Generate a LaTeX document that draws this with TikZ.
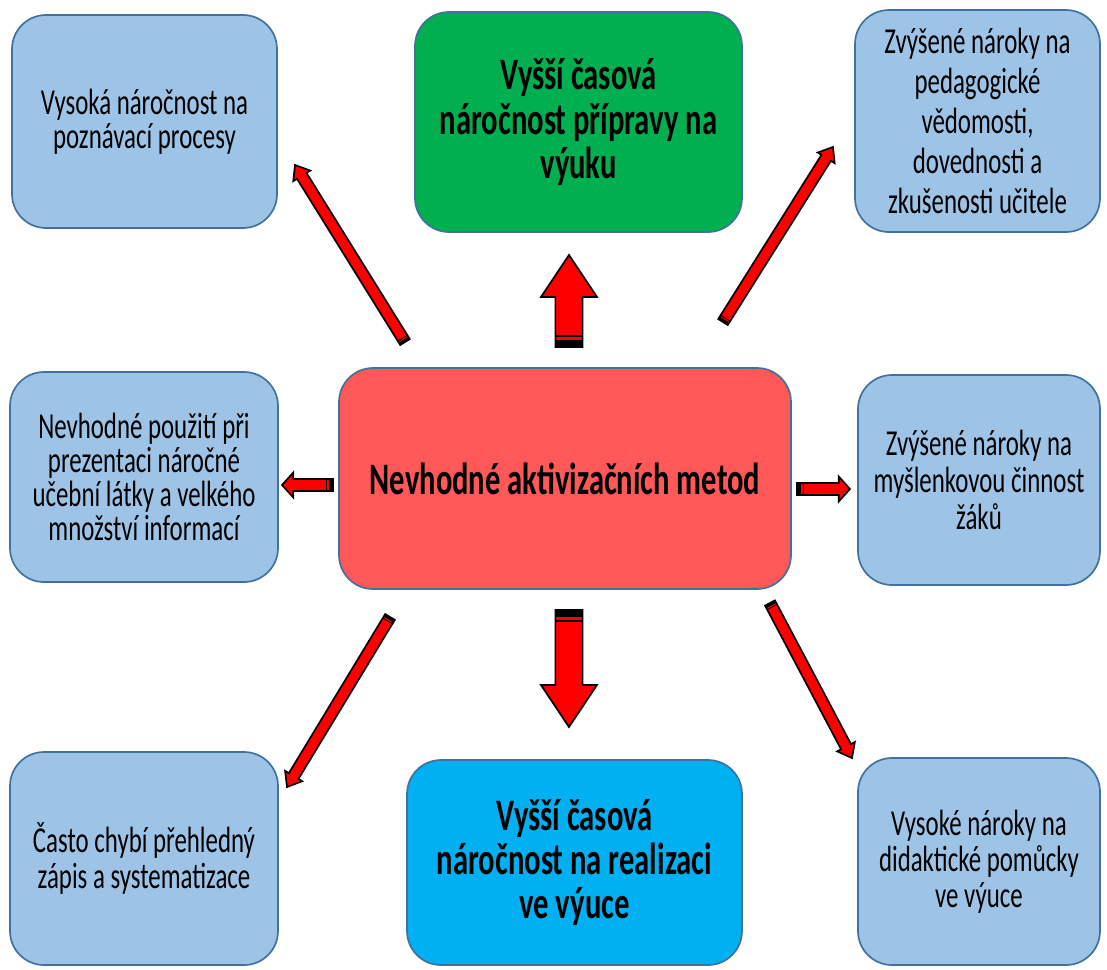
\documentclass[tikz,border=0pt]{standalone}
\usepackage{fontspec}
\setmainfont{Carlito}[FakeStretch=0.68]
\usetikzlibrary{calc}
\definecolor{boxblue}{RGB}{157,195,230}
\definecolor{boxline}{RGB}{65,113,156}
\definecolor{boxgreen}{RGB}{0,176,80}
\definecolor{boxcyan}{RGB}{0,176,240}
\definecolor{boxred}{RGB}{255,88,88}
% fat arrow: #1 tail, #2 tip, #3 half shaft, #4 half head, #5 head length, #6 dark tail
\newcommand\fatarrow[6]{%
	\path let \p1=(#1), \p2=(#2) in \pgfextra{%
		\pgfmathsetmacro\arrang{atan2(\y2-\y1,\x2-\x1)}\global\let\arrang\arrang
		\pgfmathsetlengthmacro\arrlen{veclen(\x2-\x1,\y2-\y1)}\global\let\arrlen\arrlen};
	\begin{scope}[shift={(#1)},rotate=\arrang]
		\draw[arrowbody] (0,-#3)--(\arrlen-#5,-#3)--(\arrlen-#5,-#4)--(\arrlen,0)--(\arrlen-#5,#4)--(\arrlen-#5,#3)--(0,#3)--cycle;
		\fill (0,-#3) rectangle (#6,#3);
		\draw[line width=0.3*#6] (1.6*#6,-#3)--(1.6*#6,#3);
	\end{scope}}
\begin{document}
\begin{tikzpicture}[x=0.025cm,y=-0.025cm,line join=round,
	size/.style 2 args={minimum width=#1*0.025cm,minimum height=#2*0.025cm},
	box/.style={draw=boxline,line width=1.2pt,rounded corners=0.85cm,align=center,inner sep=0pt,
		font=\fontsize{26}{25}\selectfont},
	bluebox/.style={box,fill=boxblue},
	bigbox/.style={box,font=\bfseries\fontsize{32}{31.3}\selectfont},
	arrowbody/.style={draw=black,fill=red,line width=1.2pt,line join=miter}]
	\useasboundingbox (0,0) rectangle (1107,969);
	%==boxes
	\node[bigbox,fill=boxred,size={452}{221}] (stred) at (565,478.5) {Nevhodné aktivizačních metod};
	\node[bigbox,fill=boxgreen,size={327}{220}] (priprava) at (578.5,122) {Vyšší časová\\náročnost přípravy na\\výuku};
	\node[bigbox,fill=boxcyan,size={335}{205}] (realizace) at (574.5,862.5) {Vyšší časová\\náročnost na realizaci\\ve výuce};
	\node[bluebox,size={265}{213},font=\fontsize{26}{24}\selectfont] (procesy) at (144.5,121.5) {Vysoká náročnost na\\poznávací procesy};
	\node[bluebox,size={245}{222},font=\fontsize{26}{28.5}\selectfont] (ucitel) at (977.5,121) {Zvýšené nároky na\\pedagogické\\vědomosti,\\dovednosti a\\zkušenosti učitele};
	\node[bluebox,size={268}{210},font=\fontsize{26}{24}\selectfont] (latka) at (144,477) {Nevhodné použití při\\prezentaci náročné\\učební látky a velkého\\množství informací};
	\node[bluebox,size={242}{210},font=\fontsize{26}{26.3}\selectfont] (zaci) at (979,480) {Zvýšené nároky na\\myšlenkovou činnost\\žáků};
	\node[bluebox,size={268}{213}] (zapis) at (144,858.5) {Často chybí přehledný\\zápis a systematizace};
	\node[bluebox,size={242}{207},font=\fontsize{26}{25.6}\selectfont] (pomucky) at (979,861.5) {Vysoké nároky na\\didaktické pomůcky\\ve výuce};
	%==arrow ends
	\coordinate (A) at (569,347); \coordinate (A') at (569,255);
	\coordinate (B) at (569,610); \coordinate (B') at (569,727);
	\coordinate (C) at (333,485); \coordinate (C') at (282,485);
	\coordinate (D) at (797,489); \coordinate (D') at (850,489);
	\coordinate (E) at (405,342); \coordinate (E') at (295,165);
	\coordinate (F) at (723,322); \coordinate (F') at (833,147);
	\coordinate (G) at (390,617); \coordinate (G') at (287,787);
	\coordinate (H) at (770,603); \coordinate (H') at (852,758);
	\fatarrow{A}{A'}{0.34cm}{0.7cm}{1.05cm}{0.17cm}
	\fatarrow{B}{B'}{0.34cm}{0.7cm}{1.05cm}{0.17cm}
	\foreach \e in {C,D}{\fatarrow{\e}{\e'}{0.15cm}{0.31cm}{0.28cm}{0.1cm}}
	\foreach \e in {E,F,G,H}{\fatarrow{\e}{\e'}{0.14cm}{0.25cm}{0.32cm}{0.07cm}}
\end{tikzpicture}
\end{document}
